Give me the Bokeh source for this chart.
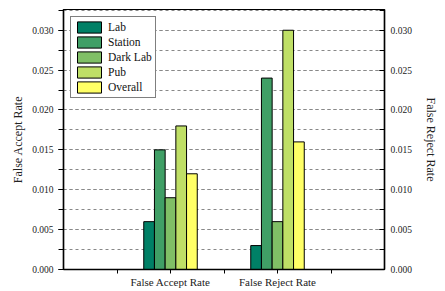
from bokeh.plotting import figure
from bokeh.models import (LinearAxis, SingleIntervalTicker, FixedTicker, Range1d,
                          ColumnDataSource, Legend, LegendItem, CustomJSTickFormatter)
from bokeh.transform import dodge
from bokeh.embed import file_html
from bokeh.resources import INLINE

# ---- data ----
metrics = ["False Accept Rate", "False Reject Rate"]
metric_pos = [2, 4]
minor_x_ticks = [1, 3, 5]
series = ["Lab", "Station", "Dark Lab", "Pub", "Overall"]
lab = [0.006, 0.003]
station = [0.015, 0.024]
dark_lab = [0.009, 0.006]
pub = [0.018, 0.030]
overall = [0.012, 0.016]
colors = ["#008066", "#409f66", "#80bf66", "#bfdf66", "#ffff66"]

values = [lab, station, dark_lab, pub, overall]
FONT = "'Liberation Serif', 'Times New Roman', serif"

p = figure(width=440, height=290, output_backend="svg", toolbar_location=None,
           x_range=Range1d(0, 6), y_range=Range1d(0, 0.0326),
           min_border_left=63, min_border_right=54, min_border_top=9,
           min_border_bottom=10)
p.outline_line_color = "black"
p.outline_line_width = 1.2

src = ColumnDataSource(dict(x=metric_pos, **{s: v for s, v in zip(series, values)}))
width = 0.2
offsets = [-0.4, -0.2, 0.0, 0.2, 0.4]
items = []
for s, c, off in zip(series, colors, offsets):
    r = p.vbar(x=dodge("x", off, range=p.x_range), top=s, width=width, source=src,
               fill_color=c, line_color="black", line_width=1)
    items.append(LegendItem(label=s, renderers=[r]))

# grid
yt = SingleIntervalTicker(interval=0.005, num_minor_ticks=2)
p.yaxis[0].ticker = yt
p.xgrid.visible = False
p.ygrid.ticker = yt
p.ygrid.grid_line_color = "#888888"
p.ygrid.grid_line_dash = "3 3"
p.ygrid.grid_line_width = 1
p.ygrid.minor_grid_line_color = "#888888"
p.ygrid.minor_grid_line_dash = "3 3"

# x axis
xa = p.xaxis[0]
xa.ticker = FixedTicker(ticks=metric_pos, minor_ticks=minor_x_ticks)
xa.major_label_overrides = {pos: m for pos, m in zip(metric_pos, metrics)}
xa.axis_label = None

# right axis
ra = LinearAxis(ticker=yt, axis_label="False Reject Rate")
p.add_layout(ra, "right")
ya = p.yaxis[0]
ya.axis_label = "False Accept Rate"

fmt = CustomJSTickFormatter(code="return tick.toFixed(3);")
for ax in [ya, ra]:
    ax.formatter = fmt

for ax in [xa, ya, ra]:
    ax.axis_line_color = "black"
    ax.axis_line_width = 1.5
    ax.major_tick_line_color = "black"
    ax.minor_tick_line_color = "black"
    ax.major_tick_out = 5
    ax.major_tick_in = 0
    ax.minor_tick_out = 5
    ax.minor_tick_in = 0
    ax.major_label_text_font = FONT
    ax.major_label_text_color = "#222222"
    ax.axis_label_text_font = FONT
    ax.axis_label_text_font_style = "normal"
    ax.axis_label_text_font_size = "12px"
    ax.axis_label_text_color = "#222222"

ya.major_label_text_font_size = "9.5px"
ya.major_label_standoff = 5
ra.major_label_text_font_size = "9.5px"
ra.major_tick_out = 0
ra.major_tick_in = 5
ra.minor_tick_out = 0
ra.minor_tick_in = 5
ra.major_label_standoff = 6
xa.major_label_text_font_size = "11px"
xa.major_tick_out = 4
xa.minor_tick_out = 4
xa.major_label_standoff = 2
ya.axis_label_standoff = 4
ra.axis_label_standoff = 9

legend = Legend(items=items, location="top_left")
legend.margin = 7
legend.padding = 3
legend.spacing = 1
legend.glyph_width = 30
legend.glyph_height = 14
legend.label_height = 14
legend.label_standoff = 4
legend.label_text_font = FONT
legend.label_text_font_size = "11.5px"
legend.label_text_line_height = 1.0
legend.label_text_color = "#111111"
legend.border_line_color = "black"
legend.border_line_width = 1
legend.background_fill_alpha = 1
p.add_layout(legend, "center")

open("out.html", "w").write(file_html(p, INLINE))
